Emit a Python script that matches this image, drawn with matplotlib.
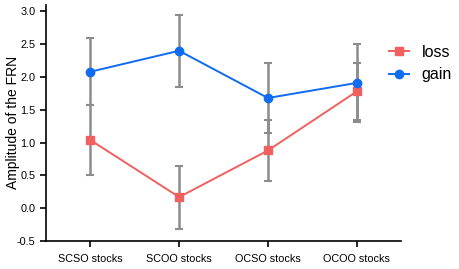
import numpy as np
import matplotlib.pyplot as plt

plt.rcParams['font.family'] = ['Liberation Sans', 'DejaVu Sans']

categories = ["SCSO stocks", "SCOO stocks", "OCSO stocks", "OCOO stocks"]
loss = [1.04, 0.17, 0.88, 1.78]
loss_err = [0.53, 0.48, 0.47, 0.44]
gain = [2.08, 2.40, 1.68, 1.91]
gain_err = [0.51, 0.55, 0.53, 0.60]

x = np.arange(len(categories))

fig = plt.figure(figsize=(4.59, 2.69), dpi=100)
ax = fig.add_axes([0.100, 0.104, 0.774, 0.878])

ax.errorbar(x, loss, yerr=loss_err, fmt='none', ecolor='#8c8c8c', elinewidth=1.8, capsize=3, capthick=1.5, zorder=1)
ax.errorbar(x, gain, yerr=gain_err, fmt='none', ecolor='#8c8c8c', elinewidth=1.8, capsize=3, capthick=1.5, zorder=1)
ax.plot(x, loss, color='#f25f5f', marker='s', markersize=6, linewidth=1.4, label='loss', zorder=3)
ax.plot(x, gain, color='#0f6bf0', marker='o', markersize=6, linewidth=1.4, label='gain', zorder=3)

ax.set_xlim(-0.5, 3.5)
ax.set_ylim(-0.5, 3.1)
ax.set_yticks([-0.5, 0.0, 0.5, 1.0, 1.5, 2.0, 2.5, 3.0])
ax.set_yticklabels(['-0.5', '0.0', '0.5', '1.0', '1.5', '2.0', '2.5', '3.0'])
ax.set_xticks(x)
ax.set_xticklabels(categories)
ax.tick_params(axis='both', labelsize=7.8, length=4, width=1.2, direction='out')
ax.tick_params(axis='x', pad=5)
ax.spines['top'].set_visible(False)
ax.spines['right'].set_visible(False)
ax.spines['left'].set_linewidth(1.2)
ax.spines['bottom'].set_linewidth(1.2)
ax.set_ylabel('Amplitude of the FRN', fontsize=10)
ax.yaxis.set_label_coords(-0.072, 0.5)

ax.legend(loc='upper left', bbox_to_anchor=(0.965, 0.83), frameon=False, fontsize=11.5,
          handlelength=1.3, handletextpad=0.75, labelspacing=0.45, borderaxespad=0, borderpad=0)

fig.savefig('out.png', dpi=100)
